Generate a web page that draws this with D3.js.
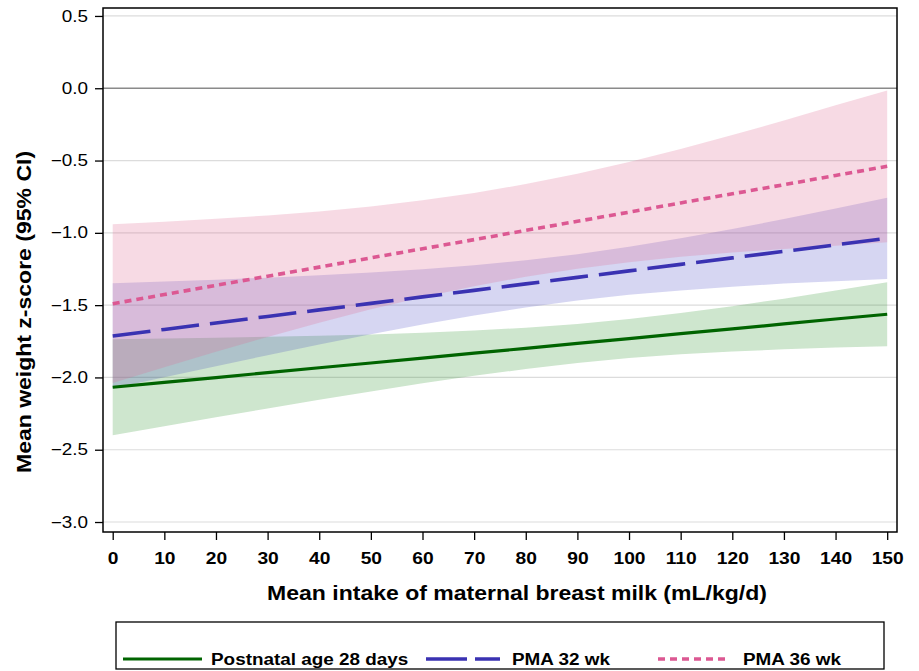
<!DOCTYPE html>
<html>
<head>
<meta charset="utf-8">
<script src="https://cdn.jsdelivr.net/npm/d3@7"></script>
<style>
  body { margin: 0; background: #fff; }
  svg { display: block; font-family: 'Liberation Sans', Arial, sans-serif; }
  .tick text { fill: #000; }
</style>
</head>
<body>
<div class="chart"></div>
<script>
// intake values (mL/kg/d)
const intake = [0, 10, 20, 30, 40, 50, 60, 70, 80, 90, 100, 110, 120, 130, 140, 150]

// Postnatal age 28 days
const day28Fit = [-2.068, -2.034, -2.001, -1.967, -1.933, -1.900, -1.866, -1.832, -1.799, -1.765, -1.731, -1.697, -1.664, -1.630, -1.596, -1.563]
const day28Lo = [-2.400, -2.337, -2.276, -2.215, -2.155, -2.097, -2.041, -1.989, -1.942, -1.900, -1.866, -1.840, -1.821, -1.805, -1.793, -1.785]
const day28Hi = [-1.736, -1.731, -1.726, -1.719, -1.711, -1.703, -1.691, -1.675, -1.656, -1.630, -1.596, -1.554, -1.507, -1.455, -1.399, -1.341]

// PMA 32 wk
const pma32Fit = [-1.713, -1.668, -1.623, -1.578, -1.533, -1.488, -1.443, -1.398, -1.353, -1.308, -1.263, -1.218, -1.173, -1.128, -1.083, -1.038]
const pma32Lo = [-2.077, -1.999, -1.922, -1.846, -1.773, -1.701, -1.634, -1.571, -1.516, -1.468, -1.429, -1.398, -1.372, -1.351, -1.334, -1.319]
const pma32Hi = [-1.349, -1.337, -1.324, -1.310, -1.293, -1.275, -1.252, -1.225, -1.190, -1.148, -1.097, -1.038, -0.974, -0.905, -0.832, -0.757]

// PMA 36 wk
const pma36Fit = [-1.490, -1.427, -1.363, -1.300, -1.237, -1.173, -1.110, -1.047, -0.983, -0.920, -0.857, -0.793, -0.730, -0.667, -0.603, -0.540]
const pma36Lo = [-2.039, -1.930, -1.823, -1.720, -1.622, -1.529, -1.445, -1.369, -1.303, -1.249, -1.204, -1.166, -1.136, -1.111, -1.089, -1.065]
const pma36Hi = [-0.941, -0.924, -0.903, -0.880, -0.852, -0.817, -0.775, -0.725, -0.663, -0.591, -0.510, -0.420, -0.324, -0.223, -0.117, -0.015]

const xTicks = [0, 10, 20, 30, 40, 50, 60, 70, 80, 90, 100, 110, 120, 130, 140, 150]
const yTicks = [0.5, 0.0, -0.5, -1.0, -1.5, -2.0, -2.5, -3.0]

const seriesNames = ['Postnatal age 28 days', 'PMA 32 wk', 'PMA 36 wk']

// build rows for each group
function rows(fit, lo, hi) {
  return intake.map((x, i) => ({ x: x, fit: fit[i], lo: lo[i], hi: hi[i] }))
}

// the original font runs wider than Liberation Sans
function stretch(sel, k) {
  sel.each(function () {
    const w = this.getComputedTextLength()
    d3.select(this).attr('textLength', w * k).attr('lengthAdjust', 'spacingAndGlyphs')
  })
}

const groups = [
  { name: seriesNames[0], data: rows(day28Fit, day28Lo, day28Hi), line: '#006400', band: '#0a800a', bandOpacity: 0.2, width: 3.2, dash: null, legendDash: null },
  { name: seriesNames[1], data: rows(pma32Fit, pma32Lo, pma32Hi), line: '#3a32b2', band: '#3232be', bandOpacity: 0.2, width: 3.6, dash: '38,11', legendDash: '41,8' },
  { name: seriesNames[2], data: rows(pma36Fit, pma36Lo, pma36Hi), line: '#dc5892', band: '#df6b93', bandOpacity: 0.25, width: 3.6, dash: '7,5', legendDash: '7,5' }
]

const svg_width = 919
const svg_height = 671
const plot = { left: 103, right: 897, top: 8, bottom: 532 }

const svg = d3.select('.chart').append('svg')
  .attr('width', svg_width).attr('height', svg_height)

const xScale = d3.scaleLinear([-1.88, 151.9], [plot.left, plot.right])
const yScale = d3.scaleLinear([-3.069, 0.555], [plot.bottom, plot.top])

// grid lines
svg.append('g').attr('class', 'grid')
  .selectAll('line').data(yTicks.filter(d => d !== 0)).join('line')
  .attr('x1', plot.left).attr('x2', plot.right)
  .attr('y1', d => yScale(d)).attr('y2', d => yScale(d))
  .style('stroke', '#dcdcdc').style('stroke-width', 1.2)

// reference line at 0
svg.append('line')
  .attr('x1', plot.left).attr('x2', plot.right)
  .attr('y1', yScale(0)).attr('y2', yScale(0))
  .style('stroke', '#8a8a8a').style('stroke-width', 1.6)

// confidence bands
const area = d3.area()
  .x(d => xScale(d.x))
  .y0(d => yScale(d.lo))
  .y1(d => yScale(d.hi))

svg.append('g').attr('class', 'bands')
  .selectAll('path').data(groups).join('path')
  .attr('d', d => area(d.data))
  .style('fill', d => d.band)
  .style('fill-opacity', d => d.bandOpacity)

// fitted lines
const line = d3.line()
  .x(d => xScale(d.x))
  .y(d => yScale(d.fit))

svg.append('g').attr('class', 'lines')
  .selectAll('path').data(groups).join('path')
  .attr('d', d => line(d.data))
  .style('fill', 'none')
  .style('stroke', d => d.line)
  .style('stroke-width', d => d.width)
  .style('stroke-dasharray', d => d.dash)

// frame
svg.append('rect')
  .attr('x', plot.left).attr('y', plot.top)
  .attr('width', plot.right - plot.left).attr('height', plot.bottom - plot.top)
  .style('fill', 'none').style('stroke', '#000').style('stroke-width', 1.5)

// axes
const yAxis = d3.axisLeft(yScale)
  .tickValues(yTicks)
  .tickFormat(d3.format('.1f'))
  .tickSize(8).tickSizeOuter(0).tickPadding(7)
const yAxisDraw = svg.append('g').attr('class', 'y axis')
  .attr('transform', `translate(${plot.left}, 0)`)
  .call(yAxis)
yAxisDraw.select('.domain').remove()
yAxisDraw.selectAll('text').style('font-size', '16px').call(stretch, 1.18)
yAxisDraw.selectAll('line').style('stroke', '#000').style('stroke-width', 1.3)

const xAxis = d3.axisBottom(xScale)
  .tickValues(xTicks)
  .tickSize(8).tickSizeOuter(0).tickPadding(12)
const xAxisDraw = svg.append('g').attr('class', 'x axis')
  .attr('transform', `translate(0, ${plot.bottom})`)
  .call(xAxis)
xAxisDraw.select('.domain').remove()
xAxisDraw.selectAll('text').style('font-size', '17px').style('font-weight', 'bold').call(stretch, 1.13)
xAxisDraw.selectAll('line').style('stroke', '#000').style('stroke-width', 1.3)

// axis titles
svg.append('text')
  .attr('x', 517).attr('y', 600)
  .attr('text-anchor', 'middle')
  .style('font-size', '20px').style('font-weight', 'bold')
  .text('Mean intake of maternal breast milk (mL/kg/d)')
  .call(stretch, 1.15)

svg.append('text')
  .attr('transform', 'translate(31, 312) rotate(-90)')
  .attr('text-anchor', 'middle')
  .style('font-size', '20px').style('font-weight', 'bold')
  .text('Mean weight z-score (95% CI)')
  .call(stretch, 1.15)

// legend
const legend = svg.append('g').attr('class', 'legend')
legend.append('rect')
  .attr('x', 116).attr('y', 622).attr('width', 768).attr('height', 47)
  .style('fill', '#fff').style('stroke', '#000').style('stroke-width', 1.3)

const legendPos = [
  { x1: 123, x2: 202, tx: 211 },
  { x1: 426, x2: 500, tx: 512 },
  { x1: 658, x2: 728, tx: 743 }
]
const items = legend.selectAll('.item').data(groups).join('g').attr('class', 'item')
items.append('line')
  .attr('x1', (d, i) => legendPos[i].x1).attr('x2', (d, i) => legendPos[i].x2)
  .attr('y1', 659).attr('y2', 659)
  .style('stroke', d => d.line)
  .style('stroke-width', d => d.width)
  .style('stroke-dasharray', d => d.legendDash)
items.append('text')
  .attr('x', (d, i) => legendPos[i].tx).attr('y', 665)
  .style('font-size', '16px').style('font-weight', 'bold')
  .text(d => d.name)
  .call(stretch, 1.18)
</script>
</body>
</html>
